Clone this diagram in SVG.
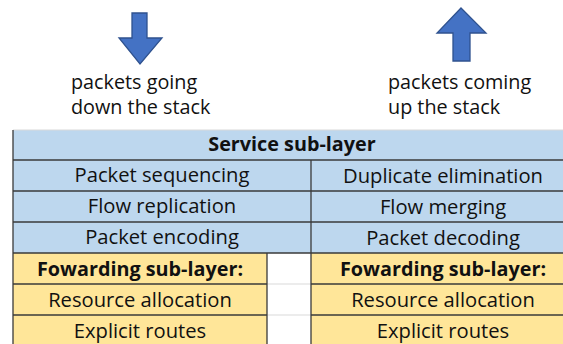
<svg xmlns="http://www.w3.org/2000/svg" width="563" height="344" viewBox="0 0 563 344">
<style>
.t{font-family:"Open Sans","Liberation Sans",sans-serif;font-size:20.2px;fill:#111;}
.top{font-size:19.8px;}
.c{text-anchor:middle;}
.b{font-weight:bold;font-size:19.8px;}
.blue{fill:#BDD7EE;}
.yel{fill:#FFE699;}
.ln{stroke:#3a3a3a;stroke-width:1.3;fill:none;}
.lt{stroke:#d9d9d9;stroke-width:1;fill:none;}
.arr{fill:#4472C4;stroke:#2F528F;stroke-width:1.3;}
</style>
<rect width="563" height="344" fill="#fff"/>
<g id="arrow-down">
<polygon class="arr" points="132,13 147,13 147,38 162,38 140,64 119,38 132,38"/>
<text class="t top" x="71" y="89">packets going</text>
<text class="t top" x="71" y="114">down the stack</text>
</g>
<g id="arrow-up">
<polygon class="arr" points="461,8 486,33 470,33 470,61 453,61 453,33 437,33"/>
<text class="t top" x="388" y="89">packets coming</text>
<text class="t top" x="388" y="114">up the stack</text>
</g>
<g id="service">
<rect class="blue" x="13" y="130" width="550" height="123"/>
<line class="lt" x1="13" y1="130" x2="563" y2="130"/>
<text class="t c b" x="292" y="151">Service sub-layer</text>
</g>
<g id="packet-sequencing"><text class="t c" x="162" y="182">Packet sequencing</text></g>
<g id="duplicate-elimination"><text class="t c" x="443" y="183">Duplicate elimination</text></g>
<g id="flow-replication"><text class="t c" x="162" y="213">Flow replication</text></g>
<g id="flow-merging"><text class="t c" x="443" y="214">Flow merging</text></g>
<g id="packet-encoding"><text class="t c" x="162" y="244">Packet encoding</text></g>
<g id="packet-decoding"><text class="t c" x="443" y="245">Packet decoding</text></g>
<g id="forwarding-left">
<rect class="yel" x="13" y="253" width="254" height="91"/>
<text class="t c b" x="140" y="276">Fowarding sub-layer:</text>
<text class="t c" x="140" y="307">Resource allocation</text>
<text class="t c" x="140" y="338">Explicit routes</text>
</g>
<g id="forwarding-right">
<rect class="yel" x="311" y="253" width="252" height="91"/>
<text class="t c b" x="443" y="276">Fowarding sub-layer:</text>
<text class="t c" x="443" y="307">Resource allocation</text>
<text class="t c" x="443" y="338">Explicit routes</text>
</g>
<g id="grid">
<line class="lt" x1="267" y1="284" x2="311" y2="284"/>
<line class="lt" x1="267" y1="315" x2="311" y2="315"/>
<line class="ln" x1="13" y1="130" x2="13" y2="344"/>
<line class="ln" x1="311" y1="160" x2="311" y2="344"/>
<line class="ln" x1="267" y1="253" x2="267" y2="344"/>
<line class="ln" x1="13" y1="160" x2="563" y2="160"/>
<line class="ln" x1="13" y1="191" x2="563" y2="191"/>
<line class="ln" x1="13" y1="222" x2="563" y2="222"/>
<line class="ln" x1="13" y1="253" x2="563" y2="253"/>
<line class="ln" x1="13" y1="284" x2="267" y2="284"/>
<line class="ln" x1="311" y1="284" x2="563" y2="284"/>
<line class="ln" x1="13" y1="315" x2="267" y2="315"/>
<line class="ln" x1="311" y1="315" x2="563" y2="315"/>
</g>
</svg>
